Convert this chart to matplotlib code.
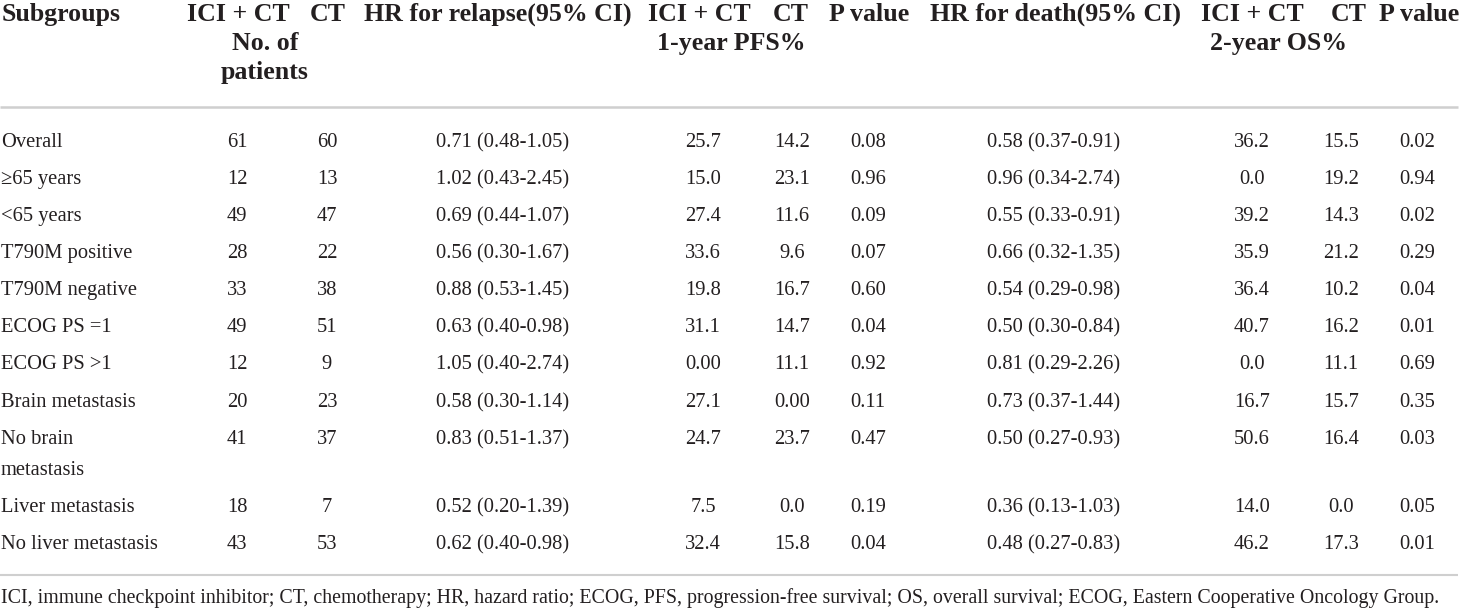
import matplotlib
matplotlib.use("Agg")
import matplotlib.pyplot as plt

# ---- data ----
subgroups = ["Overall", "\u226565 years", "<65 years", "T790M positive", "T790M negative",
             "ECOG PS =1", "ECOG PS >1", "Brain metastasis", "No brain\nmetastasis",
             "Liver metastasis", "No liver metastasis"]
n_ici = ["61", "12", "49", "28", "33", "49", "12", "20", "41", "18", "43"]
n_ct = ["60", "13", "47", "22", "38", "51", "9", "23", "37", "7", "53"]
hr_relapse = ["0.71 (0.48-1.05)", "1.02 (0.43-2.45)", "0.69 (0.44-1.07)", "0.56 (0.30-1.67)",
              "0.88 (0.53-1.45)", "0.63 (0.40-0.98)", "1.05 (0.40-2.74)", "0.58 (0.30-1.14)",
              "0.83 (0.51-1.37)", "0.52 (0.20-1.39)", "0.62 (0.40-0.98)"]
pfs_ici = ["25.7", "15.0", "27.4", "33.6", "19.8", "31.1", "0.00", "27.1", "24.7", "7.5", "32.4"]
pfs_ct = ["14.2", "23.1", "11.6", "9.6", "16.7", "14.7", "11.1", "0.00", "23.7", "0.0", "15.8"]
p_pfs = ["0.08", "0.96", "0.09", "0.07", "0.60", "0.04", "0.92", "0.11", "0.47", "0.19", "0.04"]
hr_death = ["0.58 (0.37-0.91)", "0.96 (0.34-2.74)", "0.55 (0.33-0.91)", "0.66 (0.32-1.35)",
            "0.54 (0.29-0.98)", "0.50 (0.30-0.84)", "0.81 (0.29-2.26)", "0.73 (0.37-1.44)",
            "0.50 (0.27-0.93)", "0.36 (0.13-1.03)", "0.48 (0.27-0.83)"]
os_ici = ["36.2", "0.0", "39.2", "35.9", "36.4", "40.7", "0.0", "16.7", "50.6", "14.0", "46.2"]
os_ct = ["15.5", "19.2", "14.3", "21.2", "10.2", "16.2", "11.1", "15.7", "16.4", "0.0", "17.3"]
p_os = ["0.02", "0.94", "0.02", "0.29", "0.04", "0.01", "0.69", "0.35", "0.03", "0.05", "0.01"]

header_top = ["Subgroups", "ICI + CT", "CT", "HR for relapse(95% CI)", "ICI + CT", "CT",
              "P value", "HR for death(95% CI)", "ICI + CT", "CT", "P value"]
header_sub = ["No. of\npatients", "1-year PFS%", "2-year OS%"]
footnote = ("ICI, immune checkpoint inhibitor; CT, chemotherapy; HR, hazard ratio; ECOG, PFS, "
            "progression-free survival; OS, overall survival; ECOG, Eastern Cooperative Oncology Group.")

# ---- layout ----
W, H = 1460, 609
fig = plt.figure(figsize=(W / 100, H / 100), dpi=100)
ax = fig.add_axes([0, 0, 1, 1])
ax.set_xlim(0, W)
ax.set_ylim(H, 0)
ax.axis("off")

serif = ["Liberation Serif", "DejaVu Serif"]
txt = "#231f20"
body_fs = 14.8
head_fs = 18.6

head_x = [2, 238, 328, 498, 699, 791, 869, 1055, 1252, 1349, 1419]
for i, (x, t) in enumerate(zip(head_x, header_top)):
    ax.text(x, 21, t, ha="left" if i == 0 else "center", va="baseline",
            fontsize=head_fs, fontweight="bold", family=serif, color=txt)
sub_x = [265, 731, 1278]
for x, t in zip(sub_x, header_sub):
    for k, line in enumerate(t.split("\n")):
        ax.text(x, 50 + 29.5 * k, line, ha="center", va="baseline",
                fontsize=head_fs, fontweight="bold", family=serif, color=txt)

ax.plot([0, 1458], [106.5, 106.5], color="#cfcfcf", lw=1.8, solid_capstyle="butt")
ax.plot([0, 1458], [574.5, 574.5], color="#cfcfcf", lw=1.5, solid_capstyle="butt")

row_y = [140, 177, 214, 251, 288, 325, 362, 400, 437, 505, 542]
col_x = [237, 327, 503, 703, 792, 868, 1054, 1252, 1341, 1417]
cols = [n_ici, n_ct, hr_relapse, pfs_ici, pfs_ct, p_pfs, hr_death, os_ici, os_ct, p_os]

for r, y in enumerate(row_y):
    for k, line in enumerate(subgroups[r].split("\n")):
        ax.text(1, y + 7 + 31 * k, line, ha="left", va="baseline",
                fontsize=body_fs, family=serif, color=txt)
    for x, col in zip(col_x, cols):
        ax.text(x, y + 7, col[r], ha="center", va="baseline",
                fontsize=body_fs, family=serif, color=txt)

ax.text(1, 603, footnote, ha="left", va="baseline", fontsize=14.3, family=serif, color=txt)

fig.savefig("out.png", dpi=100, facecolor="white")
